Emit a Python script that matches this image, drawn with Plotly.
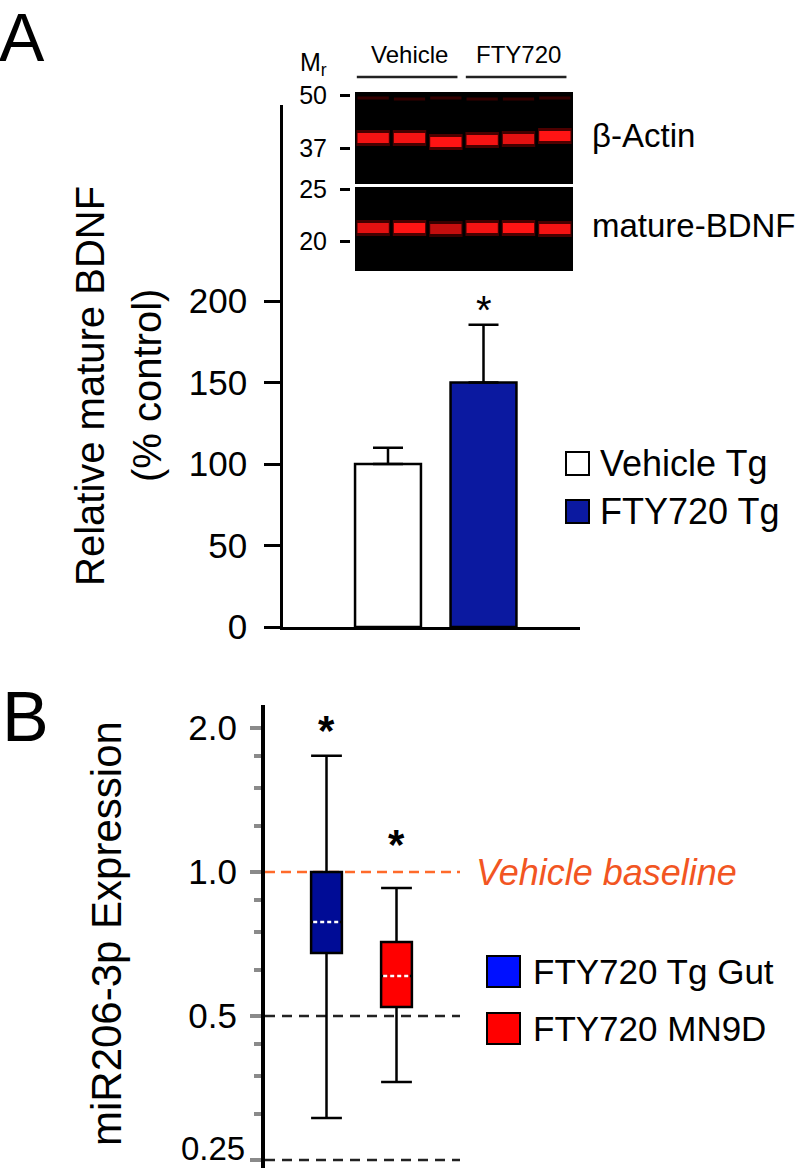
import math
import plotly.graph_objects as go

W, H = 800, 1168
FONT = "Liberation Sans, Arial, Helvetica, sans-serif"

# ---------------- Panel A data ----------------
bar_groups = ["Vehicle Tg", "FTY720 Tg"]
bar_values = [100, 150]
bar_errors = [10, 35.5]
bar_colors = ["#ffffff", "#0b19a0"]
a_ticks = [0, 50, 100, 150, 200]

# ---------------- Western blot inset ----------------
blot_lanes = [1, 2, 3, 4, 5, 6]
blot_groups = ["Vehicle", "FTY720"]
blot_group_lanes = [(1, 3), (4, 6)]
mr_labels = ["50", "37", "25", "20"]
mr_positions = [3, 56, 97, 149]          # migration distance from blot top
actin_band_pos = [46, 46, 50, 48, 47, 44]
actin_band_int = [0.95, 0.95, 1.0, 0.95, 0.85, 1.0]
bdnf_band_pos = [136, 136, 137, 136, 136, 137]
bdnf_band_int = [0.85, 1.0, 0.7, 0.95, 1.0, 0.95]
faint_band_pos = [6, 7, 6, 7, 7, 6]
blot_panels = [(0, 92), (95, 179)]      # membrane strips (top, bottom)
band_names = ["\u03b2-Actin", "mature-BDNF"]

# ---------------- Panel B data ----------------
box_groups = ["FTY720 Tg Gut", "FTY720 MN9D"]
box_q1 = [0.677, 0.522]
box_median = [0.786, 0.606]
box_q3 = [1.0, 0.714]
box_low = [0.306, 0.364]
box_high = [1.75, 0.926]
box_colors = ["#000c96", "#ff0000"]
legend_b_colors = ["#0010ff", "#ff0000"]
b_ticks = [0.25, 0.5, 1.0, 2.0]
b_ticktext = ["0.25", "0.5", "1.0", "2.0"]
b_minor = [0.3125, 0.375, 0.4375, 0.625, 0.75, 0.875, 1.25, 1.5, 1.75]
reference_lines = [0.5, 0.25]
baseline = 1.0


def fx(px):
    return px / W


def fy(py):
    return 1 - py / H


fig = go.Figure()

# ---------- Panel A bars ----------
a_pos = list(range(len(bar_groups)))
fig.add_trace(go.Bar(
    x=a_pos, y=bar_values, width=0.69,
    marker=dict(color=bar_colors, line=dict(color="black", width=2.5)),
    error_y=dict(type="data", array=bar_errors, arrayminus=[0] * len(bar_errors),
                 symmetric=False, color="black", thickness=2.5, width=15),
    xaxis="x", yaxis="y", showlegend=False, hoverinfo="skip",
))

# ---------- Blot bands ----------
def add_bands(pos, inten, width, glow, rgb="255,20,20"):
    for lane, p, a in zip(blot_lanes, pos, inten):
        if glow:
            fig.add_trace(go.Scatter(
                x=[lane - 0.46, lane + 0.46], y=[p, p], mode="lines",
                line=dict(color="rgba(255,0,0,%.2f)" % (0.3 * a), width=width + 6),
                xaxis="x3", yaxis="y3", showlegend=False, hoverinfo="skip"))
        fig.add_trace(go.Scatter(
            x=[lane - 0.43, lane + 0.43], y=[p, p], mode="lines",
            line=dict(color="rgba(%s,%.2f)" % (rgb, a), width=width),
            xaxis="x3", yaxis="y3", showlegend=False, hoverinfo="skip"))

add_bands(faint_band_pos, [0.35] * 6, 3, False, rgb="150,0,0")
add_bands(actin_band_pos, actin_band_int, 10, True)
add_bands(bdnf_band_pos, bdnf_band_int, 10, True)

# ---------- Panel B boxes ----------
b_pos = list(range(len(box_groups)))
bw = 0.44
for i in b_pos:
    fig.add_trace(go.Box(
        x=[i], q1=[box_q1[i]], median=[box_median[i]], q3=[box_q3[i]],
        lowerfence=[box_low[i]], upperfence=[box_high[i]],
        width=bw, whiskerwidth=1, fillcolor=box_colors[i],
        line=dict(color="black", width=2.5), boxpoints=False,
        xaxis="x2", yaxis="y2", showlegend=False, hoverinfo="skip"))
for i in b_pos:
    xs = [i - bw / 2 + 0.03, i + bw / 2 - 0.03]
    fig.add_trace(go.Scatter(x=xs, y=[box_median[i]] * 2, mode="lines",
                             line=dict(color=box_colors[i], width=3.5),
                             xaxis="x2", yaxis="y2", showlegend=False, hoverinfo="skip"))
    fig.add_trace(go.Scatter(x=xs, y=[box_median[i]] * 2, mode="lines",
                             line=dict(color="white", width=2.5, dash="4px,3px"),
                             xaxis="x2", yaxis="y2", showlegend=False, hoverinfo="skip"))

shapes = []
annotations = []

# ---------- Panel B reference lines ----------
shapes.append(dict(type="line", xref="x2 domain", yref="y2", x0=0, x1=1,
                   y0=baseline, y1=baseline, layer="below",
                   line=dict(color="#ff6a2a", width=2.5, dash="10px,6px")))
for r in reference_lines:
    shapes.append(dict(type="line", xref="x2 domain", yref="y2", x0=0, x1=1,
                       y0=r, y1=r, layer="below",
                       line=dict(color="#222222", width=2.5, dash="10px,7px")))

# ---------- Blot membranes ----------
for (t, b) in blot_panels:
    shapes.append(dict(type="rect", xref="x3 domain", yref="y3", x0=0, x1=1,
                       y0=t, y1=b, layer="below", fillcolor="black",
                       line=dict(width=0)))

# group headers with underline
for name, (lo, hi) in zip(blot_groups, blot_group_lanes):
    annotations.append(dict(text=name, xref="x3", yref="paper", x=(lo + hi) / 2,
                            y=fy(55), xanchor="center", yanchor="middle",
                            showarrow=False, font=dict(size=24, color="black", family=FONT)))
    shapes.append(dict(type="line", xref="x3", yref="paper", x0=lo - 0.45, x1=hi + 0.32,
                       y0=fy(77), y1=fy(77), line=dict(color="#222", width=2.5)))

annotations.append(dict(text="M<sub>r</sub>", xref="paper", yref="paper", x=fx(313), y=fy(64),
                        xanchor="center", yanchor="middle", showarrow=False,
                        font=dict(size=25, color="black", family=FONT)))

for name, pos in zip(band_names, [actin_band_pos, bdnf_band_pos]):
    annotations.append(dict(text=name, xref="paper", yref="y3", x=fx(590),
                            y=sum(pos) / len(pos), yshift=3, xanchor="left", yanchor="middle",
                            showarrow=False, font=dict(size=33, color="black", family=FONT)))

# ---------- Panel A extras ----------
annotations.append(dict(text="*", xref="x", yref="y", x=a_pos[1],
                        y=bar_values[1] + bar_errors[1], yanchor="bottom", yshift=-9,
                        showarrow=False, font=dict(size=40, color="black", family=FONT)))

leg_a_rows = [463.5, 511.5]
for name, col, yc in zip(bar_groups, bar_colors, leg_a_rows):
    shapes.append(dict(type="rect", xref="paper", yref="paper", x0=fx(566), x1=fx(589),
                       y0=fy(yc - 11.5), y1=fy(yc + 11.5), fillcolor=col,
                       line=dict(color="black", width=2)))
    annotations.append(dict(text=name, xref="paper", yref="paper", x=fx(598), y=fy(yc),
                            xanchor="left", yanchor="middle", showarrow=False,
                            font=dict(size=36, color="black", family=FONT)))

annotations.append(dict(text="Relative mature BDNF", xref="paper", yref="paper",
                        x=fx(90), y=fy(386), textangle=-90, xanchor="center", yanchor="middle",
                        showarrow=False, font=dict(size=40, color="black", family=FONT)))
annotations.append(dict(text="(% control)", xref="paper", yref="paper",
                        x=fx(147), y=fy(386), textangle=-90, xanchor="center", yanchor="middle",
                        showarrow=False, font=dict(size=40, color="black", family=FONT)))

annotations.append(dict(text="A", xref="paper", yref="paper", x=fx(-3), y=fy(-3),
                        xanchor="left", yanchor="top", showarrow=False,
                        font=dict(size=68, color="black", family=FONT)))
annotations.append(dict(text="B", xref="paper", yref="paper", x=fx(0), y=fy(676),
                        xanchor="left", yanchor="top", showarrow=False,
                        font=dict(size=70, color="black", family=FONT)))

# ---------- Panel B extras ----------
star_shift = [0, 18]
for i in b_pos:
    annotations.append(dict(text="<b>*</b>", xref="x2", yref="y2", x=i,
                            y=math.log10(box_high[i]), yanchor="bottom", yshift=star_shift[i],
                            showarrow=False, font=dict(size=42, color="black", family=FONT)))

annotations.append(dict(text="<i>Vehicle baseline</i>", xref="paper", yref="y2", x=fx(474),
                        y=math.log10(baseline), xanchor="left", yanchor="middle", showarrow=False,
                        font=dict(size=36, color="#f25522", family=FONT)))

# lowest tick label sits against the bottom edge: drawn as a label nudged up
b_axis_labels = [t if v != min(b_ticks) else "" for v, t in zip(b_ticks, b_ticktext)]
annotations.append(dict(text=b_ticktext[b_ticks.index(min(b_ticks))], xref="paper", yref="y2",
                        x=fx(247), y=math.log10(min(b_ticks)), yshift=12,
                        xanchor="right", yanchor="middle", showarrow=False,
                        font=dict(size=33, color="black", family=FONT)))

leg_b_rows = [971.5, 1028.5]
for name, col, yc in zip(box_groups, legend_b_colors, leg_b_rows):
    shapes.append(dict(type="rect", xref="paper", yref="paper", x0=fx(487), x1=fx(520),
                       y0=fy(yc - 15.5), y1=fy(yc + 15.5), fillcolor=col,
                       line=dict(color="black", width=2)))
    annotations.append(dict(text=name, xref="paper", yref="paper", x=fx(531), y=fy(yc),
                            xanchor="left", yanchor="middle", showarrow=False,
                            font=dict(size=35, color="black", family=FONT)))

annotations.append(dict(text="miR206-3p Expression", xref="paper", yref="paper",
                        x=fx(106), y=fy(934), textangle=-90, xanchor="center", yanchor="middle",
                        showarrow=False, font=dict(size=42, color="black", family=FONT)))

# ---------- Axes ----------
a_px_per_unit = (627 - 301) / 200.0
a_bar_px = 95.5
b_px_per_oct = 144.0
b_box_px = 70.0
log2 = math.log10(2)

fig.update_layout(
    template="none",
    width=W, height=H, margin=dict(l=0, r=0, t=0, b=0, pad=0, autoexpand=False),
    paper_bgcolor="white", plot_bgcolor="rgba(0,0,0,0)",
    font=dict(family=FONT, color="black"),
    shapes=shapes, annotations=annotations,
    xaxis=dict(domain=[fx(283), fx(580)], anchor="y", automargin=False,
               range=[-(388 - 283) / a_bar_px, (580 - 388) / a_bar_px],
               showline=True, linecolor="black", linewidth=2.5,
               showticklabels=False, ticks="", showgrid=False, zeroline=False),
    yaxis=dict(domain=[fy(627), fy(105)], anchor="x", automargin=False,
               range=[0, (627 - 105) / a_px_per_unit],
               tickmode="array", tickvals=a_ticks, ticks="outside", ticklen=16,
               tickwidth=2.5, tickcolor="black", showline=True, linecolor="black",
               linewidth=2.5, showgrid=False, zeroline=False, ticklabeloverflow="allow",
               tickfont=dict(size=35, color="black", family=FONT), ticklabelstandoff=10),
    xaxis2=dict(domain=[fx(265), fx(460)], anchor="y2", automargin=False,
                range=[-(326.5 - 265) / b_box_px, 1 + (460 - 396.5) / b_box_px],
                showline=False, showticklabels=False, ticks="", showgrid=False, zeroline=False),
    yaxis2=dict(type="log", domain=[0, fy(705)], anchor="x2", automargin=False,
                range=[-(H - 872) / b_px_per_oct * log2, (872 - 705) / b_px_per_oct * log2],
                tickmode="array", tickvals=b_ticks, ticktext=b_axis_labels,
                ticks="outside", ticklen=11, tickwidth=4, tickcolor="#8a8a8a",
                minor=dict(tickmode="array", tickvals=b_minor, ticks="outside", ticklen=7,
                           tickwidth=4, tickcolor="#8a8a8a", showgrid=False),
                showline=True, linecolor="black", linewidth=4, showgrid=False, zeroline=False,
                ticklabeloverflow="allow",
                tickfont=dict(size=35, color="black", family=FONT), ticklabelstandoff=6),
    xaxis3=dict(domain=[fx(355), fx(573)], anchor="y3", range=[0.5, 6.5], visible=False,
                automargin=False),
    yaxis3=dict(domain=[fy(271), fy(92)], anchor="free", position=fx(350), automargin=False,
                range=[179, 0], tickmode="array", tickvals=mr_positions, ticktext=mr_labels,
                ticks="outside", ticklen=10, tickwidth=3, tickcolor="black",
                showline=False, showgrid=False, zeroline=False, ticklabeloverflow="allow",
                tickfont=dict(size=25, color="black", family=FONT), ticklabelstandoff=8),
)

fig.write_html("out.html", config={"displayModeBar": False},
               post_script="document.body.style.margin='0px';document.body.style.overflow='hidden';")
